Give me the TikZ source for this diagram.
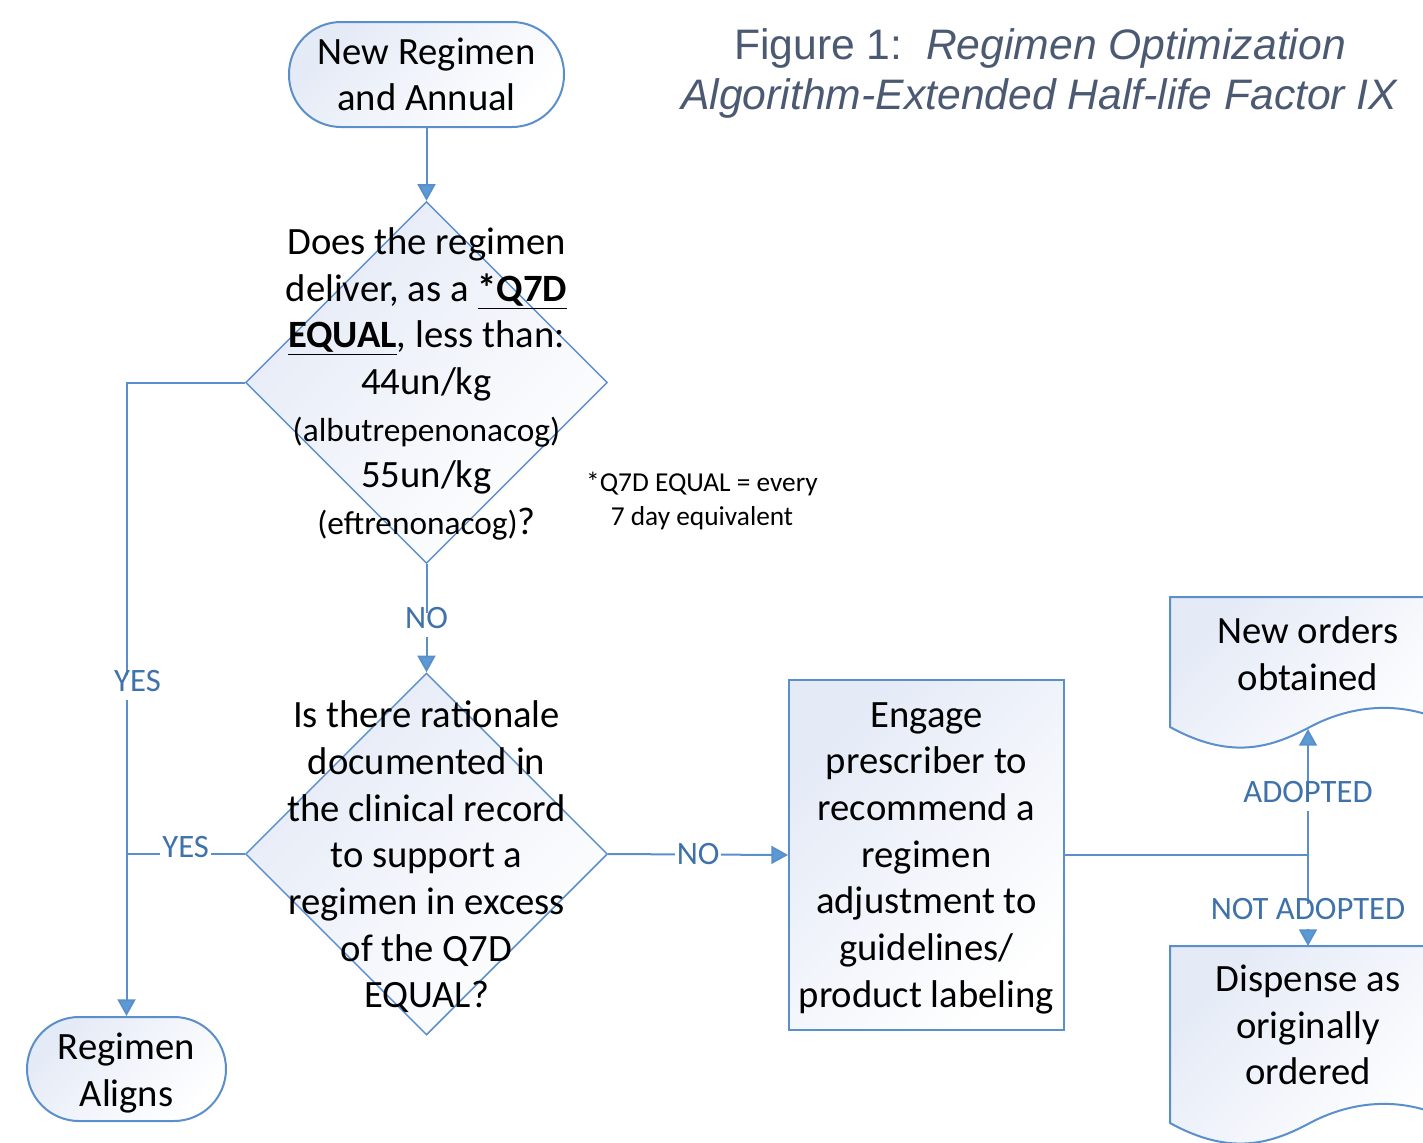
\documentclass[tikz,border=0pt]{standalone}
\usepackage{fontspec}
\setmainfont{Carlito}
\newfontfamily\titlefont{Liberation Sans}
\usetikzlibrary{shapes.geometric,arrows.meta,calc}
\definecolor{lineblue}{HTML}{5B8FCB}
\definecolor{tipblue}{HTML}{5B9BD5}
\definecolor{labblue}{HTML}{3F72AA}
\definecolor{gradc}{HTML}{E4EAF6}
\definecolor{titlec}{HTML}{4B5A72}
\begin{document}
\begin{tikzpicture}[x=0.75pt,y=-0.75pt,
  gfill/.style={top color=gradc, bottom color=white, shading angle=45},
  term/.style={gfill, draw=lineblue, line width=1.5pt, rectangle, rounded corners=39pt, inner sep=0pt, align=center, font=\fontsize{29}{35}\selectfont},
  dia/.style={gfill, draw=lineblue, line width=1.1pt, diamond, aspect=1, inner sep=0pt, minimum width=271.5pt, minimum height=271.5pt},
  procbox/.style={gfill, draw=lineblue, line width=1.5pt, rectangle, inner sep=0pt, minimum width=206.25pt, minimum height=262.5pt},
  doc/.style={gfill, draw=lineblue, line width=1.5pt},
  txt/.style={align=center, inner sep=0pt, font=\fontsize{29}{35}\selectfont},
  conn/.style={draw=lineblue, line width=1.5pt},
  arr/.style={conn, -{Triangle[width=13.5pt,length=12.5pt,fill=tipblue]}},
  lab/.style={fill=white, text=labblue, inner xsep=1.5pt, inner ysep=4pt, text height=0.8em, text depth=0.25em, font=\fontsize{24.5}{29}\selectfont}
]
\useasboundingbox (0,0) rectangle (1423,1142);
\clip (0,0) rectangle (1423,1142);

% shapes
\node[term, minimum width=206.25pt, minimum height=78.75pt] (t1) at (426.5,74.5) {New Regimen\\and Annual};
\node[dia] (d1) at (426.5,382.5) {};
\node[dia] (d2) at (426.5,854) {};
\node[term, minimum width=149.25pt, minimum height=78pt] (t2) at (126.5,1069) {};
\node[procbox] (box) at (926.5,855) {};

\path[doc] (1170,597) -- (1446,597) -- (1446,722) .. controls (1400,700) and (1350,705) .. (1308,728) .. controls (1270,748) and (1230,760) .. (1170,727) -- cycle;
\path[doc] (1170,946) -- (1446,946) -- (1446,1118) .. controls (1400,1096) and (1350,1101) .. (1308,1124) .. controls (1270,1144) and (1230,1156) .. (1170,1123) -- cycle;
\coordinate (doc1b) at (1308,729);
\coordinate (doc2t) at (1308,946);
\coordinate (j) at (1308,855);

% connectors
\draw[arr] (t1.south) -- (d1.north);
\draw[arr] (d1.south) -- node[lab, yshift=-5pt]{NO} (d2.north);
\draw[arr] (d1.west) -| node[lab, pos=0.736, xshift=8.25pt, yshift=-4.5pt]{YES} (t2.north);
\draw[conn] (d2.west) -- node[lab, inner ysep=1pt, yshift=0pt]{YES} (d2.west -| t2.north);
\draw[arr] (d2.east) -- node[lab, inner ysep=1pt, yshift=-5pt]{NO} (box.west);
\draw[conn] (box.east) -- (j);
\draw[arr] (j) -- node[lab, yshift=-5pt]{ADOPTED} (doc1b);
\draw[arr] (j) -- node[lab, pos=0.6, yshift=-5pt]{NOT ADOPTED} (doc2t);

% texts
\node[txt] (t2t) at (126.5,1073) {Regimen\\Aligns};
\node[txt] (boxt) at (926.5,858) {Engage\\prescriber to\\recommend a\\regimen\\adjustment to\\guidelines/\\product labeling};
\node[txt] (d1t) at (426.5,384) {Does the regimen\\deliver, as a \underline{\textbf{*Q7D}}\\\underline{\textbf{EQUAL}}, less than:\\44un/kg\\{\fontsize{25}{35}\selectfont(albutrepenonacog)}\\55un/kg\\{\fontsize{25}{35}\selectfont(eftrenonacog)}?};
\node[txt] (d2t) at (426.5,857) {Is there rationale\\documented in\\the clinical record\\to support a\\regimen in excess\\of the Q7D\\EQUAL?};
\node[txt] (doc1) at (1308,654) {New orders\\obtained};
\node[txt] (doc2) at (1308,1025) {Dispense as\\originally\\ordered};
\node[txt, font=\fontsize{20.5}{25.5}\selectfont] (note) at (702,501) {*Q7D EQUAL = every\\7 day equivalent};
\node[txt, text=titlec, font=\titlefont\fontsize{32}{37.5}\selectfont] (title) at (1040,73) {Figure 1:\ \ \textit{Regimen Optimization}\\\textit{Algorithm-Extended Half-life Factor IX}};
\end{tikzpicture}
\end{document}
